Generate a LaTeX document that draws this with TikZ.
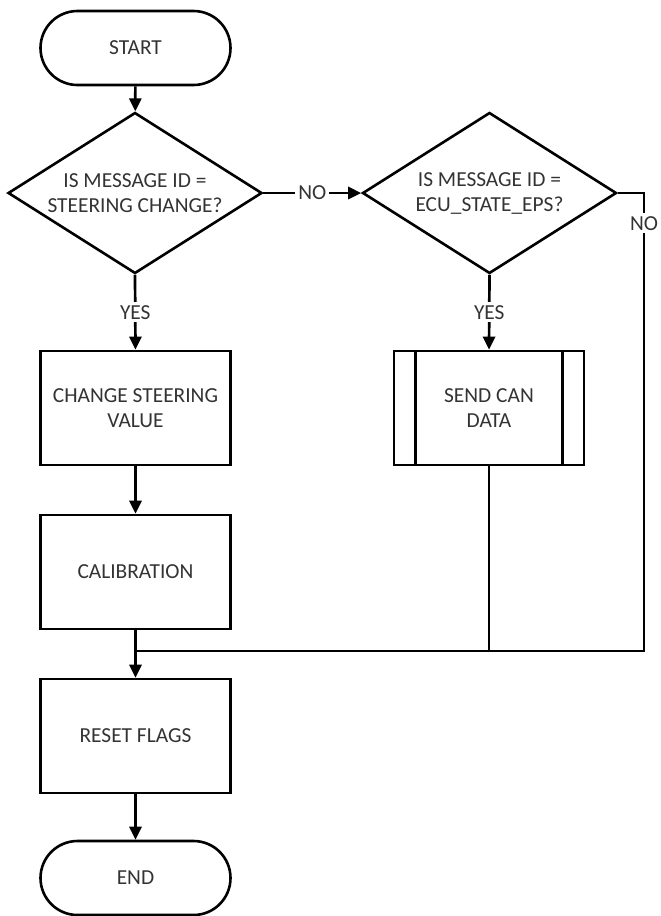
\documentclass[tikz,border=0pt]{standalone}
\usepackage{fontspec}
\setmainfont{Carlito}
\usetikzlibrary{shapes.geometric,arrows.meta}
\begin{document}
\begin{tikzpicture}[x=0.5pt,y=-0.5pt,
  every node/.style={font=\fontsize{10.7}{12.5}\selectfont, text=black!80, align=center},
  ln/.style={line width=1.35pt, draw=black},
  arr/.style={ln, -{Triangle[length=6.5pt,width=6pt]}},
  terminal/.style={draw, line width=1.3pt, minimum width=95pt, minimum height=37pt, rounded corners=18.5pt, inner sep=0pt},
  proc/.style={draw, line width=1.3pt, minimum width=95pt, minimum height=57pt, inner sep=0pt},
  decision/.style={draw, diamond, line width=1.3pt, minimum width=127pt, minimum height=80.5pt, inner sep=0pt, aspect=1.58},
  lbl/.style={fill=white, inner sep=1.5pt}]
\useasboundingbox (0,0) rectangle (660,916);

\node[terminal] (start) at (135.5,48) {START};
\node[decision] (d1) at (135,193) {IS MESSAGE ID =\\STEERING CHANGE?};
\node[decision] (d2) at (489.5,193) {IS MESSAGE ID =\\ECU\_STATE\_EPS?};
\node[proc] (change) at (135.5,408) {CHANGE STEERING\\VALUE};
\node[proc] (send) at (489,408) {SEND CAN\\DATA};
\node[proc] (calib) at (135.5,572) {CALIBRATION};
\node[proc] (reset) at (135.5,736) {RESET FLAGS};
\node[terminal] (end) at (135.5,878) {END};

\draw[line width=1.3pt] ([xshift=11.5pt]send.north west) -- ([xshift=11.5pt]send.south west);
\draw[line width=1.3pt] ([xshift=-11.5pt]send.north east) -- ([xshift=-11.5pt]send.south east);

\coordinate (join) at (135.5,651);
\coordinate (rt) at (644,193);
\coordinate (rb) at (644,651);

\draw[arr] (start) -- (d1);
\draw[arr] (d1.east) -- node[lbl] {NO} (d2.west);
\draw[arr] (d1.south) -- node[lbl] {YES} (change.north);
\draw[arr] (d2.south) -- node[lbl] {YES} (send.north);
\draw[arr] (change) -- (calib);
\draw[arr] (calib) -- (reset);
\draw[ln] (send.south) -- (send.south |- join);
\draw[ln] (d2.east) -- (rt) -- node[lbl, pos=0.066] {NO} (rb) -- (join);
\draw[arr] (reset) -- (end);
\end{tikzpicture}
\end{document}
